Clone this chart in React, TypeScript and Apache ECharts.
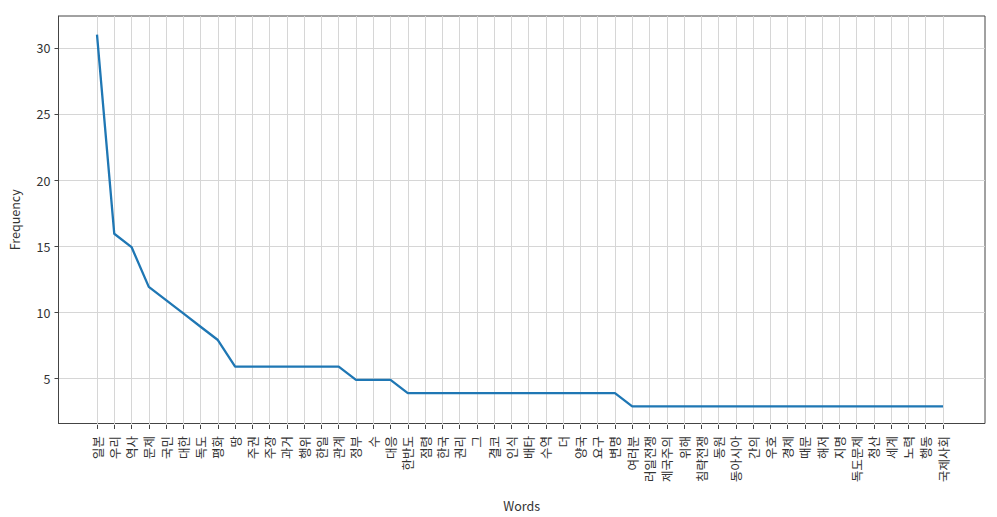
import React, { useEffect, useRef } from "react";
import * as echarts from "echarts";

const words: string[] = [
  "일본", "우리", "역사", "문제", "국민", "대한", "독도", "평화", "땅", "주권",
  "주장", "과거", "행위", "한일", "관계", "정부", "수", "대응", "한반도", "점령",
  "한국", "권리", "그", "결코", "인식", "배타", "수역", "더", "양국", "요구",
  "변명", "여러분", "러일전쟁", "제국주의", "위해", "침략전쟁", "동원", "동아시아", "간의", "우호",
  "경제", "때문", "해저", "지명", "독도문제", "청산", "세계", "노력", "행동", "국제사회",
];

const frequencies: number[] = [
  31, 16, 15, 12, 11, 10, 9, 8, 6, 6,
  6, 6, 6, 6, 6, 5, 5, 5, 4, 4,
  4, 4, 4, 4, 4, 4, 4, 4, 4, 4,
  4, 3, 3, 3, 3, 3, 3, 3, 3, 3,
  3, 3, 3, 3, 3, 3, 3, 3, 3, 3,
];

const yTicks: number[] = [5, 10, 15, 20, 25, 30];

const FONT = "'Noto Sans CJK KR', 'Noto Sans', sans-serif";

export default function App() {
  const ref = useRef<HTMLDivElement>(null);
  useEffect(() => {
    if (!ref.current) return;
    const chart = echarts.init(ref.current, undefined, { renderer: "svg" });
    const ymin = Math.min(...frequencies);
    const ymax = Math.max(...frequencies);
    const ypad = (ymax - ymin) * 0.05;
    const TOP = 16;
    const BOTTOM = 92;
    chart.setOption({
      animation: false,
      backgroundColor: "#ffffff",
      grid: [
        { left: 97, right: 54, top: TOP, bottom: BOTTOM, show: false },
        {
          left: 55,
          right: 12,
          top: TOP,
          bottom: BOTTOM,
          show: true,
          borderColor: "#444",
          borderWidth: 1,
          backgroundColor: "transparent",
        },
      ],
      xAxis: [
        {
          type: "category",
          gridIndex: 0,
          data: words,
          boundaryGap: false,
          axisLine: { show: false },
          axisTick: {
            show: true,
            length: 4,
            alignWithLabel: true,
            interval: 0,
            lineStyle: { color: "#444" },
          },
          axisLabel: {
            interval: 0,
            rotate: 90,
            margin: 11,
            fontFamily: FONT,
            fontSize: 12.5,
            color: "#333",
          },
          splitLine: {
            show: true,
            interval: 0,
            lineStyle: { color: "#d6d6d6", width: 1 },
          },
        },
        {
          type: "value",
          gridIndex: 1,
          min: 0,
          max: 1,
          show: true,
          name: "Words",
          nameLocation: "middle",
          nameGap: 76,
          nameTextStyle: { fontFamily: FONT, fontSize: 12.5, color: "#333" },
          axisLine: { show: false },
          axisTick: { show: false },
          axisLabel: { show: false },
          splitLine: { show: false },
        },
      ],
      yAxis: [
        {
          type: "value",
          gridIndex: 0,
          min: ymin - ypad,
          max: ymax + ypad,
          show: false,
          splitLine: { show: false },
        },
        {
          type: "value",
          gridIndex: 1,
          min: ymin - ypad,
          max: ymax + ypad,
          name: "Frequency",
          nameLocation: "middle",
          nameGap: 38,
          nameTextStyle: { fontFamily: FONT, fontSize: 12.5, color: "#333" },
          axisLine: { show: true, onZero: false, lineStyle: { color: "#444", width: 1 } },
          axisTick: {
            show: true,
            length: 4,
            customValues: yTicks,
            lineStyle: { color: "#444" },
          },
          axisLabel: {
            customValues: yTicks,
            margin: 8,
            fontFamily: FONT,
            fontSize: 12.5,
            color: "#333",
          },
          splitLine: { show: true, lineStyle: { color: "#d6d6d6", width: 1 } },
        },
      ],
      series: [
        {
          type: "line",
          xAxisIndex: 0,
          yAxisIndex: 0,
          data: frequencies,
          showSymbol: false,
          symbol: "none",
          z: 5,
          lineStyle: { color: "#1f77b4", width: 2.3 },
        },
      ],
    });
    return () => chart.dispose();
  }, []);
  return (
    <div
      ref={ref}
      style={{ position: "fixed", left: 0, top: 0, width: 997, height: 517 }}
    />
  );
}
